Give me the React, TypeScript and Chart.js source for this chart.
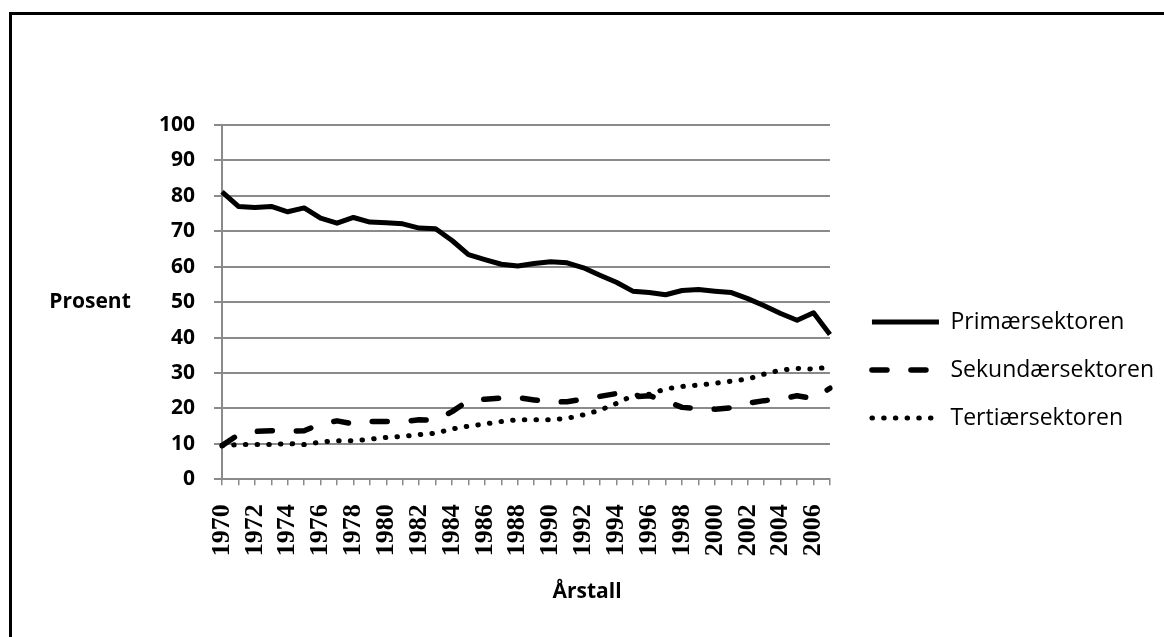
import React, { useEffect, useRef } from "react";
import { Chart, registerables } from "chart.js";

Chart.register(...registerables);

const years = [
  "1970", "1971", "1972", "1973", "1974", "1975", "1976", "1977", "1978", "1979",
  "1980", "1981", "1982", "1983", "1984", "1985", "1986", "1987", "1988", "1989",
  "1990", "1991", "1992", "1993", "1994", "1995", "1996", "1997", "1998", "1999",
  "2000", "2001", "2002", "2003", "2004", "2005", "2006", "2007",
];

const primaer = [
  81.1, 77.0, 76.7, 77.0, 75.5, 76.6, 73.7, 72.3, 73.9, 72.6,
  72.4, 72.1, 70.9, 70.7, 67.4, 63.4, 62.0, 60.7, 60.2, 60.9,
  61.4, 61.1, 59.7, 57.6, 55.6, 53.1, 52.7, 52.1, 53.3, 53.6,
  53.1, 52.7, 51.0, 49.0, 46.8, 44.9, 47.0, 40.9,
];

const sekundaer = [
  9.5, 12.6, 13.5, 13.7, 13.6, 13.7, 15.6, 16.5, 15.6, 16.3,
  16.3, 16.3, 16.8, 16.7, 19.1, 22.2, 22.6, 22.9, 23.1, 22.4,
  21.8, 21.9, 22.6, 23.4, 24.2, 23.3, 23.6, 22.1, 20.3, 20.0,
  19.8, 20.2, 21.5, 22.2, 22.6, 23.6, 22.8, 25.7,
];

const tertiaer = [
  9.5, 9.8, 9.8, 9.8, 10.1, 9.8, 10.5, 10.9, 10.9, 11.3,
  11.8, 12.1, 12.6, 13.0, 14.2, 15.0, 15.6, 16.3, 16.8, 16.8,
  16.8, 17.2, 18.2, 19.5, 21.4, 23.6, 24.0, 25.5, 26.2, 26.6,
  27.1, 27.7, 28.3, 29.7, 30.8, 31.3, 31.1, 31.7,
];

const seriesNames = ["Primærsektoren", "Sekundærsektoren", "Tertiærsektoren"];
const yAxisTitle = "Prosent";
const xAxisTitle = "Årstall";
const yMin = 0;
const yMax = 100;
const yStep = 10;

const GRID = "#8a8a8a";
const SANS = "'Open Sans', 'Noto Sans', sans-serif";

const yTitlePlugin = {
  id: "yTitleHorizontal",
  afterDraw(chart: any) {
    const { ctx } = chart;
    const yScale = chart.scales.y;
    ctx.save();
    ctx.font = `bold 21px ${SANS}`;
    ctx.fillStyle = "#000";
    ctx.textAlign = "center";
    ctx.textBaseline = "middle";
    ctx.fillText(yAxisTitle, 90, yScale.getPixelForValue((yMin + yMax) / 2));
    ctx.restore();
  },
};

export default function App() {
  const canvasRef = useRef<HTMLCanvasElement | null>(null);

  useEffect(() => {
    if (!canvasRef.current) return;
    const chart = new Chart(canvasRef.current, {
      type: "line",
      data: {
        labels: years,
        datasets: [
          {
            label: seriesNames[0],
            data: primaer,
            borderColor: "#000",
            backgroundColor: "#000",
            borderWidth: 5,
            borderJoinStyle: "round",
            borderCapStyle: "butt",
            pointRadius: 0,
            tension: 0,
          },
          {
            label: seriesNames[1],
            data: sekundaer,
            borderColor: "#000",
            backgroundColor: "#000",
            borderWidth: 5.5,
            borderDash: [15, 24],
            borderJoinStyle: "round",
            borderCapStyle: "round",
            pointRadius: 0,
            tension: 0,
          },
          {
            label: seriesNames[2],
            data: tertiaer,
            borderColor: "#000",
            backgroundColor: "#000",
            borderWidth: 5,
            borderDash: [0.5, 11.2],
            borderJoinStyle: "round",
            borderCapStyle: "round",
            pointRadius: 0,
            tension: 0,
          },
        ],
      },
      options: {
        responsive: false,
        animation: false,
        devicePixelRatio: 1,
        layout: { padding: { left: 10, right: 0, top: 125, bottom: 22 } },
        scales: {
          x: {
            type: "category",
            offset: false,
            grid: {
              display: true,
              drawOnChartArea: false,
              drawTicks: true,
              tickLength: 6,
              color: GRID,
              lineWidth: 1.5,
            },
            border: { display: true, color: GRID, width: 2 },
            ticks: {
              autoSkip: false,
              minRotation: 90,
              maxRotation: 90,
              padding: 19,
              color: "#000",
              font: { family: "'Liberation Serif', serif", size: 26, weight: "bold" },
              callback: (_v: any, i: number) => (i % 2 === 0 ? years[i] : ""),
            },
            afterFit: (scale: any) => {
              scale.height = 100.5;
            },
          },
          y: {
            type: "linear",
            position: "left",
            min: yMin,
            max: yMax,
            grid: {
              color: GRID,
              lineWidth: 2,
              drawTicks: true,
              tickLength: 8,
            },
            border: { display: true, color: GRID, width: 2 },
            ticks: {
              stepSize: yStep,
              padding: 19,
              color: "#000",
              font: { family: SANS, size: 21, weight: "bold" },
            },
            afterFit: (scale: any) => {
              scale.width = 212;
            },
          },
          gap: {
            type: "linear",
            position: "right",
            min: 0,
            max: 1,
            grid: { display: false },
            border: { display: false },
            ticks: { display: false },
            afterFit: (scale: any) => {
              scale.width = 17;
            },
          },
        },
        plugins: {
          legend: {
            display: true,
            position: "right",
            maxWidth: 420,
            labels: {
              usePointStyle: true,
              pointStyle: "line",
              pointStyleWidth: 67,
              padding: 25,
              color: "#000",
              font: { family: SANS, size: 23 },
              generateLabels: (chart: any) => {
                const base = Chart.defaults.plugins.legend.labels.generateLabels(chart);
                return base.map((item: any) => {
                  const ds = chart.data.datasets[item.datasetIndex];
                  return {
                    ...item,
                    pointStyle: "line",
                    lineWidth: ds.borderWidth,
                    lineDash: ds.borderDash || [],
                    lineCap: ds.borderCapStyle,
                    lineJoin: ds.borderJoinStyle,
                    strokeStyle: ds.borderColor,
                    fillStyle: ds.borderColor,
                    fontColor: "#000",
                  };
                });
              },
            },
          },
          title: {
            display: true,
            text: xAxisTitle,
            position: "bottom",
            color: "#000",
            font: { family: SANS, size: 21, weight: "bold" },
            padding: { top: 0, bottom: 10 },
          },
          tooltip: { enabled: false },
        },
      },
      plugins: [yTitlePlugin],
    } as any);
    return () => chart.destroy();
  }, []);

  return (
    <div style={{ position: "absolute", left: 0, top: 0, width: 1164, height: 637, background: "#fff", overflow: "hidden" }}>
      <canvas ref={canvasRef} width={1164} height={637} style={{ position: "absolute", left: 0, top: 0 }} />
      <div
        style={{
          position: "absolute",
          left: 9,
          top: 12,
          width: 1155,
          height: 625,
          borderLeft: "3px solid #000",
          borderTop: "3px solid #000",
          boxSizing: "border-box",
          pointerEvents: "none",
        }}
      />
    </div>
  );
}
